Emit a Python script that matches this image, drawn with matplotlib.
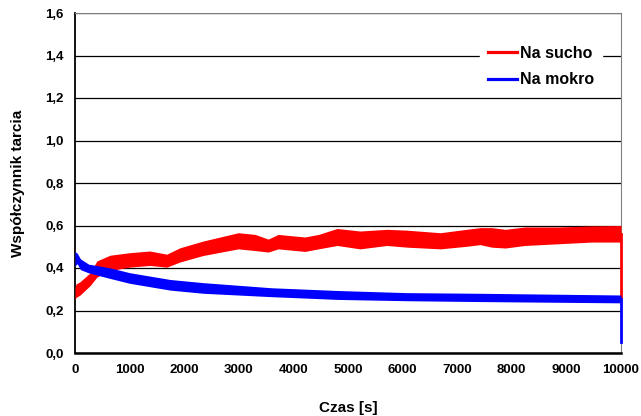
import matplotlib.pyplot as plt
from matplotlib.ticker import FuncFormatter

plt.rcParams["font.family"] = ["Liberation Sans", "DejaVu Sans"]
plt.rcParams["font.weight"] = "bold"

# Na sucho (dry) - band: lower and upper edge
dry_t = [0, 20, 90, 280, 400, 460, 640, 1000, 1370, 1680, 1920, 2350, 2990, 3300,
         3540, 3720, 4210, 4460, 4800, 5220, 5710, 6080, 6690, 7170, 7420, 7630,
         7880, 8240, 8850, 9460, 10000]
dry_hi = [0.31, 0.325, 0.335, 0.378, 0.433, 0.44, 0.46, 0.472, 0.48, 0.465, 0.495,
          0.527, 0.566, 0.558, 0.536, 0.558, 0.546, 0.558, 0.586, 0.574, 0.582,
          0.578, 0.566, 0.582, 0.59, 0.59, 0.582, 0.593, 0.593, 0.598, 0.60]
dry_lo = [0.25, 0.262, 0.272, 0.318, 0.357, 0.365, 0.388, 0.404, 0.412, 0.404, 0.428,
          0.459, 0.490, 0.482, 0.475, 0.490, 0.478, 0.490, 0.506, 0.490, 0.506,
          0.498, 0.490, 0.502, 0.510, 0.498, 0.494, 0.506, 0.514, 0.522, 0.522]
dry_end = [0.56, 0.265]

# Na mokro (wet)
wet_t = [0, 40, 100, 250, 640, 1000, 1370, 1740, 2350, 3600, 4820, 6080, 7420, 10000]
wet_hi = [0.477, 0.47, 0.443, 0.418, 0.401, 0.378, 0.362, 0.346, 0.331, 0.307, 0.294,
          0.284, 0.281, 0.273]
wet_lo = [0.41, 0.42, 0.392, 0.377, 0.351, 0.328, 0.312, 0.296, 0.281, 0.265, 0.252,
          0.246, 0.242, 0.236]
wet_end = [0.255, 0.053]

x_ticks = list(range(0, 10001, 1000))
y_ticks = [0.0, 0.2, 0.4, 0.6, 0.8, 1.0, 1.2, 1.4, 1.6]

red = "#ff0000"
blue = "#0000ff"

fig = plt.figure(figsize=(6.41, 4.16), dpi=100)
ax = fig.add_axes([75 / 641, 1 - 353 / 416, 546 / 641, 340 / 416])

ax.fill_between(dry_t, dry_lo, dry_hi, color=red, lw=0, zorder=3)
ax.fill_between(wet_t, wet_lo, wet_hi, color=blue, lw=0, zorder=4)
ax.plot([10000, 10000], dry_end, color=red, lw=2, clip_on=False, zorder=3)
ax.plot([10000, 10000], wet_end, color=blue, lw=2, clip_on=False, zorder=4)

# legend handles only
ax.plot([], [], color=red, lw=2.3, label="Na sucho")
ax.plot([], [], color=blue, lw=2.3, label="Na mokro")

ax.set_xlim(0, 10000)
ax.set_ylim(0, 1.6)
ax.set_xticks(x_ticks)
ax.set_yticks(y_ticks)
ax.yaxis.set_major_formatter(FuncFormatter(lambda v, p: f"{v:.1f}".replace(".", ",")))
ax.tick_params(length=0, labelsize=9.5, pad=8)
for lab in ax.get_xticklabels() + ax.get_yticklabels():
    lab.set_fontweight("bold")

ax.grid(axis="y", color="black", lw=0.9, zorder=1)
ax.set_axisbelow(True)
ax.spines["left"].set_linewidth(1.3)
ax.spines["bottom"].set_linewidth(1.8)
ax.spines["top"].set_color("#808080")
ax.spines["right"].set_color("#808080")

ax.set_xlabel("Czas [s]", fontsize=11, fontweight="bold", labelpad=18)
ax.set_ylabel("Współczynnik tarcia", fontsize=11, fontweight="bold", labelpad=15)

leg = ax.legend(loc="center", bbox_to_anchor=(0.854, 0.842), frameon=True,
                fancybox=False, edgecolor="white", facecolor="white", framealpha=1,
                handlelength=1.8, handletextpad=0.2, labelspacing=0.72,
                borderpad=0.5, prop={"size": 11.5, "weight": "bold"})
leg.set_zorder(5)

plt.savefig("out.png", dpi=100)
